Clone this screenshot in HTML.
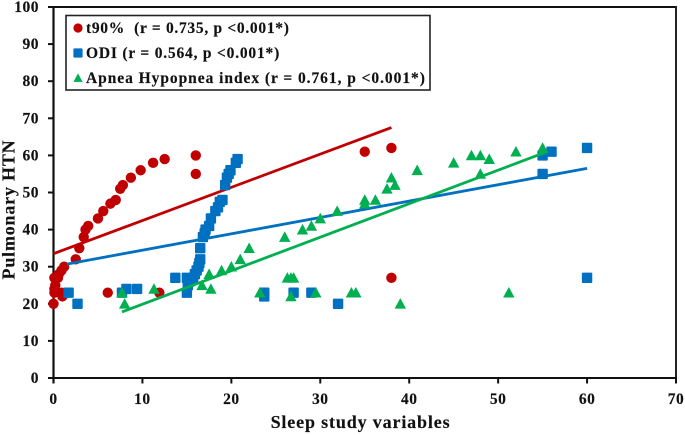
<!DOCTYPE html>
<html>
<head>
<meta charset="utf-8">
<title>Pulmonary HTN vs sleep study variables</title>
<style>
html,body{margin:0;padding:0;background:#fff;width:685px;height:435px;overflow:hidden}
svg{display:block;filter:blur(0.35px)}
text{font-family:"Liberation Serif",serif;font-weight:bold;fill:#111;stroke:#111;stroke-width:0.15px}
</style>
</head>
<body>
<svg id="chart" xmlns="http://www.w3.org/2000/svg" width="685" height="435" viewBox="0 0 685 435"></svg>
<script>
const xTicks = [0, 10, 20, 30, 40, 50, 60, 70];
const yTicks = [0, 10, 20, 30, 40, 50, 60, 70, 80, 90, 100];
const t90X = [0,0.1,0.1,0.2,0.1,0.5,0.6,0.9,1.2,1,0.9,2.5,2.9,3.4,3.6,3.9,5,5.6,6.4,7,7.5,7.8,8.7,9.8,11.2,12.5,16,16,35,38,38,6.1,11.9];
const t90Y = [20,23,24,25,27,27,28,29,30,22,23,32,35,38,40,41,43,45,47,48,51,52,54,56,58,59,60,55,61,62,27,23,23];
const odiX = [1.7,2.7,7.7,8.2,9.4,13.7,15,15,15.1,15.3,15.7,15.9,16.1,16.3,16.4,16.5,16.5,16.8,17,17.1,17.5,17.7,18.2,18.5,18.7,19,19.3,19.5,19.7,19.9,20.5,20.7,23.7,23.7,27,29,32,55,56,60,55,60];
const odiY = [23,20,23,24,24,27,27,23,25,26,27,28,29,30,31,32,35,38,39,40,41,43,45,46,47.5,48,52,54,55,56,58,59,23,22,23,23,20,60,61,62,55,27];
const ahiX = [7.7,8,11.3,16.7,17.7,17.5,18.9,20,21,22,23.2,26,26.3,26.7,27,26.7,28,29,29.5,30,31.9,33.5,34,35,35,36.2,37.5,38,38.4,39,40.9,45,47,48,49,52,55,48,51.2];
const ahiY = [23,20,24,25,24,28,29,30,32,35,23,38,27,27,27,22,40,41,23,43,45,23,23,48,47,48,51,54,52,20,56,58,60,60,59,61,62,55,23];
const t90TrendX = [0, 38];
const t90TrendY = [33.5, 67.5];
const odiTrendX = [1.5, 60];
const odiTrendY = [30.7, 56.5];
const ahiTrendX = [7.7, 55.5];
const ahiTrendY = [17.8, 61];
const legendLabels = ["t90%  (r = 0.735, p <0.001*)", "ODI (r = 0.564, p <0.001*)", "Apnea Hypopnea index (r = 0.761, p <0.001*)"];

const RED = "#c00000", BLUE = "#0070c0", GREEN = "#00b050", AXIS = "#111111";
const svg = document.getElementById("chart");
const NS = "http://www.w3.org/2000/svg";
const xScale = v => 53.5 + v * (676 - 53.5) / 70;
const yScale = v => 378 - v * (378 - 7) / 100;

function make(tag, attrs, parent) {
  const el = document.createElementNS(NS, tag);
  for (const k in attrs) el.setAttribute(k, attrs[k]);
  (parent || svg).appendChild(el);
  return el;
}

const frameTop = make("line", {x1: 48, y1: 7, x2: 677, y2: 7, stroke: AXIS, "stroke-width": 2});


const frameRight = make("line", {x1: 676, y1: 6, x2: 676, y2: 383, stroke: "#222", "stroke-width": 2});


const yAxis = make("line", {x1: 53.5, y1: 6, x2: 53.5, y2: 383, stroke: AXIS, "stroke-width": 2.2});


const xAxis = make("line", {x1: 48, y1: 378, x2: 677, y2: 378, stroke: AXIS, "stroke-width": 2});



xTicks.forEach(t => {
  const tick = make("line", {x1: xScale(t), y1: 378, x2: xScale(t), y2: 383.5, stroke: AXIS, "stroke-width": 2});
  
  
  const label = make("text", {x: xScale(t), y: 404, "text-anchor": "middle", "font-size": 15.5, "letter-spacing": 0.5});
  
  
  label.textContent = t;
});
yTicks.forEach(t => {
  const tick = make("line", {x1: 48, y1: yScale(t), x2: 53.5, y2: yScale(t), stroke: AXIS, "stroke-width": 2});
  
  
  const label = make("text", {x: 39, y: yScale(t) + 5, "text-anchor": "end", "font-size": 15.5, "letter-spacing": 0.5});
  
  
  label.textContent = t;
});

const yTitle = make("text", {transform: "translate(14.5,209.5) rotate(-90)", "text-anchor": "middle", "font-size": 18, "letter-spacing": 0.8});


yTitle.textContent = "Pulmonary HTN";
const xTitle = make("text", {x: 360.5, y: 428, "text-anchor": "middle", "font-size": 18, "letter-spacing": 0.85});


xTitle.textContent = "Sleep study variables";

function trend(xs, ys, color, name) {
  const line = make("line", {x1: xScale(xs[0]), y1: yScale(ys[0]), x2: xScale(xs[1]), y2: yScale(ys[1]), stroke: color, "stroke-width": 2.8});
  
  
}
function drawCircle(px, py, parent, r) {
  return make("circle", {cx: px, cy: py, r: r || 5.2, fill: RED}, parent);
}
function drawSquare(px, py, parent, r) {
  const h = r || 5.2;
  return make("rect", {x: px - h, y: py - h, width: 2 * h, height: 2 * h, rx: 1, fill: BLUE}, parent);
}
function drawTriangle(px, py, parent, r) {
  const h = r || 5.7;
  return make("polygon", {points: (px - h) + "," + (py + h * 0.85) + " " + (px + h) + "," + (py + h * 0.85) + " " + px + "," + (py - h), fill: GREEN}, parent);
}

trend(t90TrendX, t90TrendY, RED, 't90-trend-line');
t90X.forEach((x, i) => {
  const m = drawCircle(xScale(x), yScale(t90Y[i]));
  
  
});
odiX.forEach((x, i) => {
  const m = drawSquare(xScale(x), yScale(odiY[i]));
  
  
});
trend(odiTrendX, odiTrendY, BLUE, 'odi-trend-line');
ahiX.forEach((x, i) => {
  const m = drawTriangle(xScale(x), yScale(ahiY[i]));
  
  
});
trend(ahiTrendX, ahiTrendY, GREEN, 'apnea-hypopnea-trend-line');

const legendBox = make("rect", {x: 66, y: 15.5, width: 364, height: 74.5, fill: "#fff", stroke: "#222", "stroke-width": 1.6});


const legendRowY = [28, 53, 78];
const legendDraw = [drawCircle, drawSquare, drawTriangle];
const legendNames = ['legend-t90', 'legend-odi', 'legend-apnea-hypopnea'];
const legendSpacing = [0.7, 0.8, 0.95];
legendLabels.forEach((txt, i) => {
  const g = make("g", {});
  
  
  legendDraw[i](78, legendRowY[i], g, 4.6);
  const label = make("text", {x: 86, y: legendRowY[i] + 5, "font-size": 15.5, "letter-spacing": legendSpacing[i], style: "white-space:pre"}, g);
  label.textContent = txt;
});
</script>
</body>
</html>
